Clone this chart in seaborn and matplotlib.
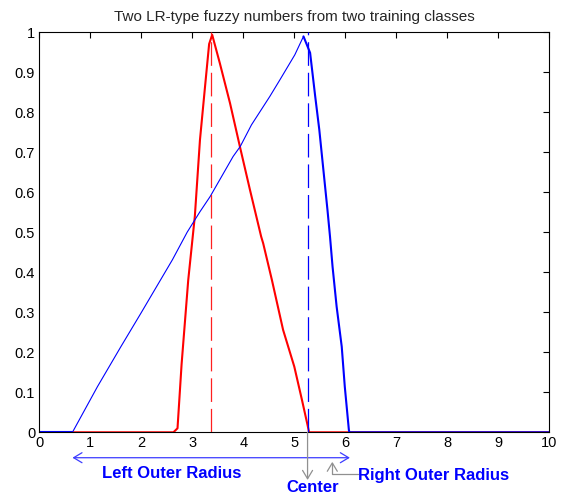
import matplotlib
matplotlib.use("Agg")
import matplotlib.pyplot as plt
import numpy as np
import pandas as pd
import seaborn as sns

# Class 1 (red) membership function
red_x = [0.0, 2.63, 2.71, 2.79, 2.92, 3.05, 3.15, 3.25, 3.33, 3.39,
         3.54, 3.74, 3.94, 4.13, 4.35, 4.39, 4.56, 4.78, 5.00, 5.15,
         5.26, 5.29, 10.0]
red_y = [0.0, 0.0, 0.01, 0.17, 0.38, 0.54, 0.73, 0.864, 0.97, 0.993,
         0.922, 0.822, 0.71, 0.606, 0.489, 0.472, 0.381, 0.256, 0.164, 0.081,
         0.018, 0.0, 0.0]

# Class 2 (blue) membership function
blue_x = [0.0, 0.65, 1.14, 1.60, 1.99, 2.61, 2.90, 3.15, 3.35, 3.80,
          3.94, 4.16, 4.52, 4.72, 5.01, 5.18, 5.31, 5.41, 5.49, 5.57,
          5.65, 5.70, 5.75, 5.83, 5.93, 5.99, 6.07, 6.08, 10.0]
blue_y = [0.0, 0.0, 0.114, 0.214, 0.297, 0.431, 0.50, 0.551, 0.589, 0.689,
          0.714, 0.768, 0.839, 0.881, 0.943, 0.989, 0.948, 0.839, 0.756, 0.656,
          0.556, 0.489, 0.414, 0.314, 0.214, 0.114, 0.006, 0.0, 0.0]

# Centers of the two fuzzy numbers
red_center = 3.37
blue_center = 5.26

# Outer radii of the blue fuzzy number
left_radius_end = 0.65
right_radius_end = 6.09

x_ticks = list(range(0, 11))
y_ticks = [0, 0.1, 0.2, 0.3, 0.4, 0.5, 0.6, 0.7, 0.8, 0.9, 1]
y_tick_labels = ["0", "0.1", "0.2", "0.3", "0.4", "0.5", "0.6", "0.7", "0.8", "0.9", "1"]

title = "Two LR-type fuzzy numbers from two training classes"

sns.set_theme(style="white")
plt.rcParams["font.family"] = ["Liberation Sans", "DejaVu Sans"]
plt.rcParams["lines.scale_dashes"] = False

red_df = pd.DataFrame({"x": red_x, "mu": red_y})
blue_df = pd.DataFrame({"x": blue_x, "mu": blue_y})
peak = int(np.argmax(blue_y))
start = blue_x.index(left_radius_end)
blue_flat = blue_df.iloc[: start + 1]
blue_rise = blue_df.iloc[start: peak + 1]
blue_fall = blue_df.iloc[peak:]

fig = plt.figure(figsize=(5.61, 4.95), dpi=100)
ax = fig.add_axes([39.3 / 561, 1 - 432.3 / 495, 510 / 561, 400.3 / 495])

thick = 1.5
thin = 0.8
sns.lineplot(data=red_df, x="x", y="mu", color="#ff0000", lw=thick, ax=ax,
             sort=False, estimator=None)
sns.lineplot(data=blue_flat, x="x", y="mu", color="#0000ff", lw=thick, ax=ax,
             sort=False, estimator=None)
sns.lineplot(data=blue_rise, x="x", y="mu", color="#0000ff", lw=thin, ax=ax,
             sort=False, estimator=None)
sns.lineplot(data=blue_fall, x="x", y="mu", color="#0000ff", lw=thick, ax=ax,
             sort=False, estimator=None)

# Dashed markers at the centers
ax.plot([red_center, red_center], [0, 1], color="#ff2020", lw=0.9,
        dashes=(17, 5), zorder=3)
ax.plot([blue_center, blue_center], [0, 1], color="#0000ff", lw=0.9,
        dashes=(17, 5), zorder=3)

ax.set_xlim(0, 10)
ax.set_ylim(0, 1)
ax.set_xticks(x_ticks)
ax.set_xticklabels([str(t) for t in x_ticks])
ax.set_yticks(y_ticks)
ax.set_yticklabels(y_tick_labels)
ax.set_xlabel("")
ax.set_ylabel("")
ax.tick_params(direction="in", length=4, width=0.8, colors="black",
               labelsize=10.5, top=True, right=True, pad=3)
for s in ax.spines.values():
    s.set_color("black")
    s.set_linewidth(0.8)
ax.set_title(title, fontsize=11, pad=8)

# Annotations below the axis
blue_txt = "#0000ff"
ax.annotate("", xy=(left_radius_end, -0.0635), xytext=(right_radius_end, -0.0635),
            xycoords="data", annotation_clip=False,
            arrowprops=dict(arrowstyle="<->,head_length=0.5,head_width=0.3",
                            color="#3c3cff", lw=0.9, shrinkA=0, shrinkB=0))
ax.annotate("", xy=(blue_center, -0.119), xytext=(blue_center, 0.0),
            annotation_clip=False,
            arrowprops=dict(arrowstyle="->,head_length=0.5,head_width=0.3",
                            color="#909090", lw=0.9, shrinkA=0, shrinkB=0))
ax.annotate("", xy=(5.745, -0.0735), xytext=(6.24, -0.104),
            annotation_clip=False,
            arrowprops=dict(arrowstyle="->,head_length=0.5,head_width=0.3",
                            connectionstyle="angle,angleA=0,angleB=90,rad=0",
                            color="#909090", lw=0.9, shrinkA=0, shrinkB=0))

ax.text(2.60, -0.1025, "Left Outer Radius", color=blue_txt, fontsize=12,
        fontweight="bold", ha="center", va="center", clip_on=False)
ax.text(5.36, -0.138, "Center", color=blue_txt, fontsize=12,
        fontweight="bold", ha="center", va="center", clip_on=False)
ax.text(6.25, -0.107, "Right Outer Radius", color=blue_txt, fontsize=12,
        fontweight="bold", ha="left", va="center", clip_on=False)

fig.savefig("out.png", dpi=100)
